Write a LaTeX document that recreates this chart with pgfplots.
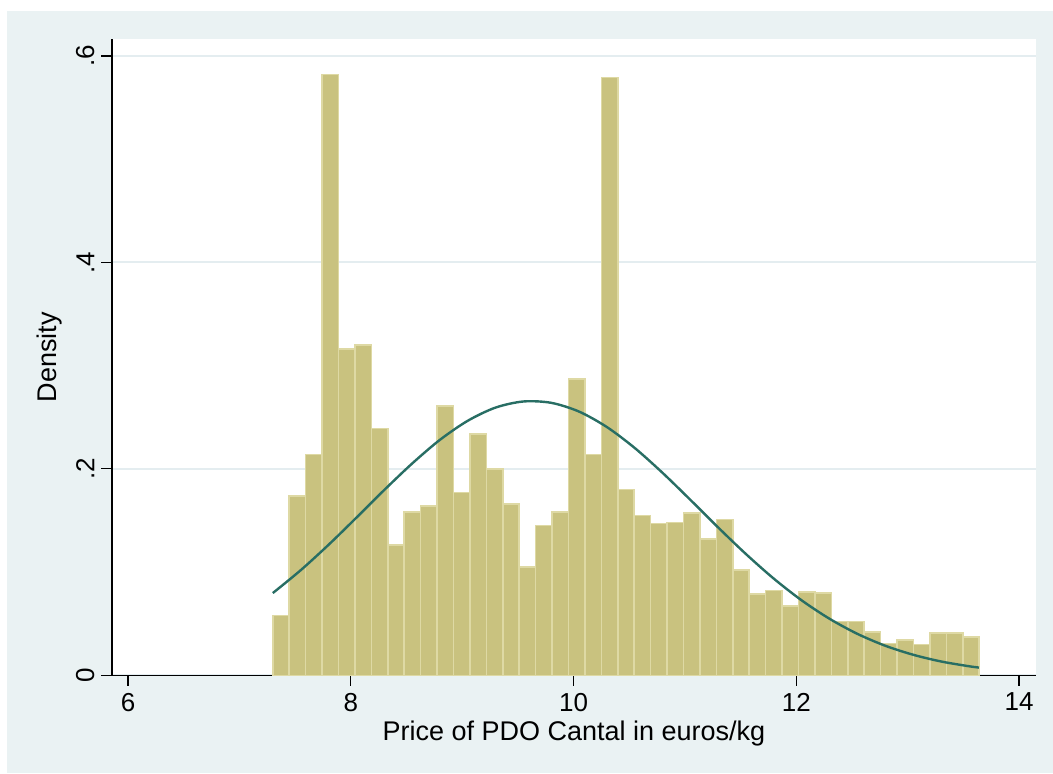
\documentclass[border=0pt]{standalone}
\usepackage{fontspec}
\setmainfont{Liberation Sans}
\usepackage{pgfplots}
\pgfplotsset{compat=1.18}
\definecolor{bgblue}{RGB}{234,242,243}
\definecolor{gridc}{RGB}{228,237,240}
\definecolor{barfill}{RGB}{201,194,127}
\definecolor{barline}{RGB}{222,217,164}
\definecolor{curvec}{RGB}{40,110,100}
\begin{document}
\begin{tikzpicture}
\fill[white] (-56pt,-48.85pt) rectangle (470.5pt,337.65pt);
\fill[bgblue] (-52.5pt,-48.85pt) rectangle (470.5pt,332.15pt);
\begin{axis}[
  at={(0pt,0pt)}, anchor=south west,
  scale only axis, width=461.85pt, height=318.15pt,
  xmin=5.856, xmax=14.150, ymin=0, ymax=0.6165,
  axis background/.style={fill=white},
  axis x line*=bottom, axis y line*=left,
  axis line style={-, line width=0.6pt, black},
  xtick={6,8,10,12,14},
  ytick={0,0.2,0.4,0.6},
  yticklabels={0,.2,.4,.6},
  tick align=outside,
  major tick length=5.25pt,
  tick style={line width=0.6pt, black},
  ymajorgrids,
  grid style={line width=1pt, gridc},
  /pgf/number format/assume math mode=true,
  tick label style={font=\fontsize{13}{15}\selectfont},
  yticklabel style={rotate=90, anchor=south},
  every axis x label/.style={at={(axis description cs:0.5,0)}, yshift=-28.9pt, anchor=center, font=\fontsize{13.5}{15}\selectfont},
  every axis y label/.style={at={(axis description cs:0,0.5)}, xshift=-31pt, rotate=90, anchor=center, font=\fontsize{13.5}{15}\selectfont},
  xlabel={Price of PDO Cantal in euros/kg},
  ylabel={Density},
  clip=true,
]
\addplot[ybar interval, fill=barfill, draw=barline, line width=0.8pt] coordinates {
(7.3000,0.058) (7.4475,0.174) (7.5950,0.214) (7.7425,0.582) (7.8900,0.316)
(8.0375,0.320) (8.1850,0.239) (8.3325,0.126) (8.4800,0.158) (8.6275,0.164)
(8.7750,0.261) (8.9225,0.177) (9.0700,0.234) (9.2175,0.200) (9.3650,0.166)
(9.5125,0.105) (9.6600,0.145) (9.8075,0.158) (9.9550,0.287) (10.1025,0.214)
(10.2500,0.579) (10.3975,0.180) (10.5450,0.155) (10.6925,0.147) (10.8400,0.148)
(10.9875,0.157) (11.1350,0.132) (11.2825,0.151) (11.4300,0.102) (11.5775,0.079)
(11.7250,0.082) (11.8725,0.067) (12.0200,0.081) (12.1675,0.080) (12.3150,0.052)
(12.4625,0.052) (12.6100,0.042) (12.7575,0.031) (12.9050,0.034) (13.0525,0.030)
(13.2000,0.041) (13.3475,0.041) (13.4950,0.037) (13.6425,0.037)
};
\addplot[smooth, no markers, curvec, line width=1.2pt] coordinates {
(7.30,0.0797) (7.55,0.1018) (7.80,0.1264) (8.05,0.1527) (8.30,0.1795)
(8.55,0.2051) (8.80,0.2281) (9.05,0.2466) (9.30,0.2594) (9.55,0.2653)
(9.80,0.2640) (10.05,0.2555) (10.30,0.2405) (10.55,0.2202) (10.80,0.1961)
(11.05,0.1699) (11.30,0.1431) (11.55,0.1173) (11.80,0.0935) (12.05,0.0725)
(12.30,0.0547) (12.55,0.0401) (12.80,0.0286) (13.05,0.0199) (13.30,0.0134)
(13.55,0.0088) (13.64,0.0075)
};
\end{axis}
\pgfresetboundingbox
\useasboundingbox (-56pt,-48.85pt) rectangle (470.5pt,337.65pt);
\end{tikzpicture}
\end{document}
